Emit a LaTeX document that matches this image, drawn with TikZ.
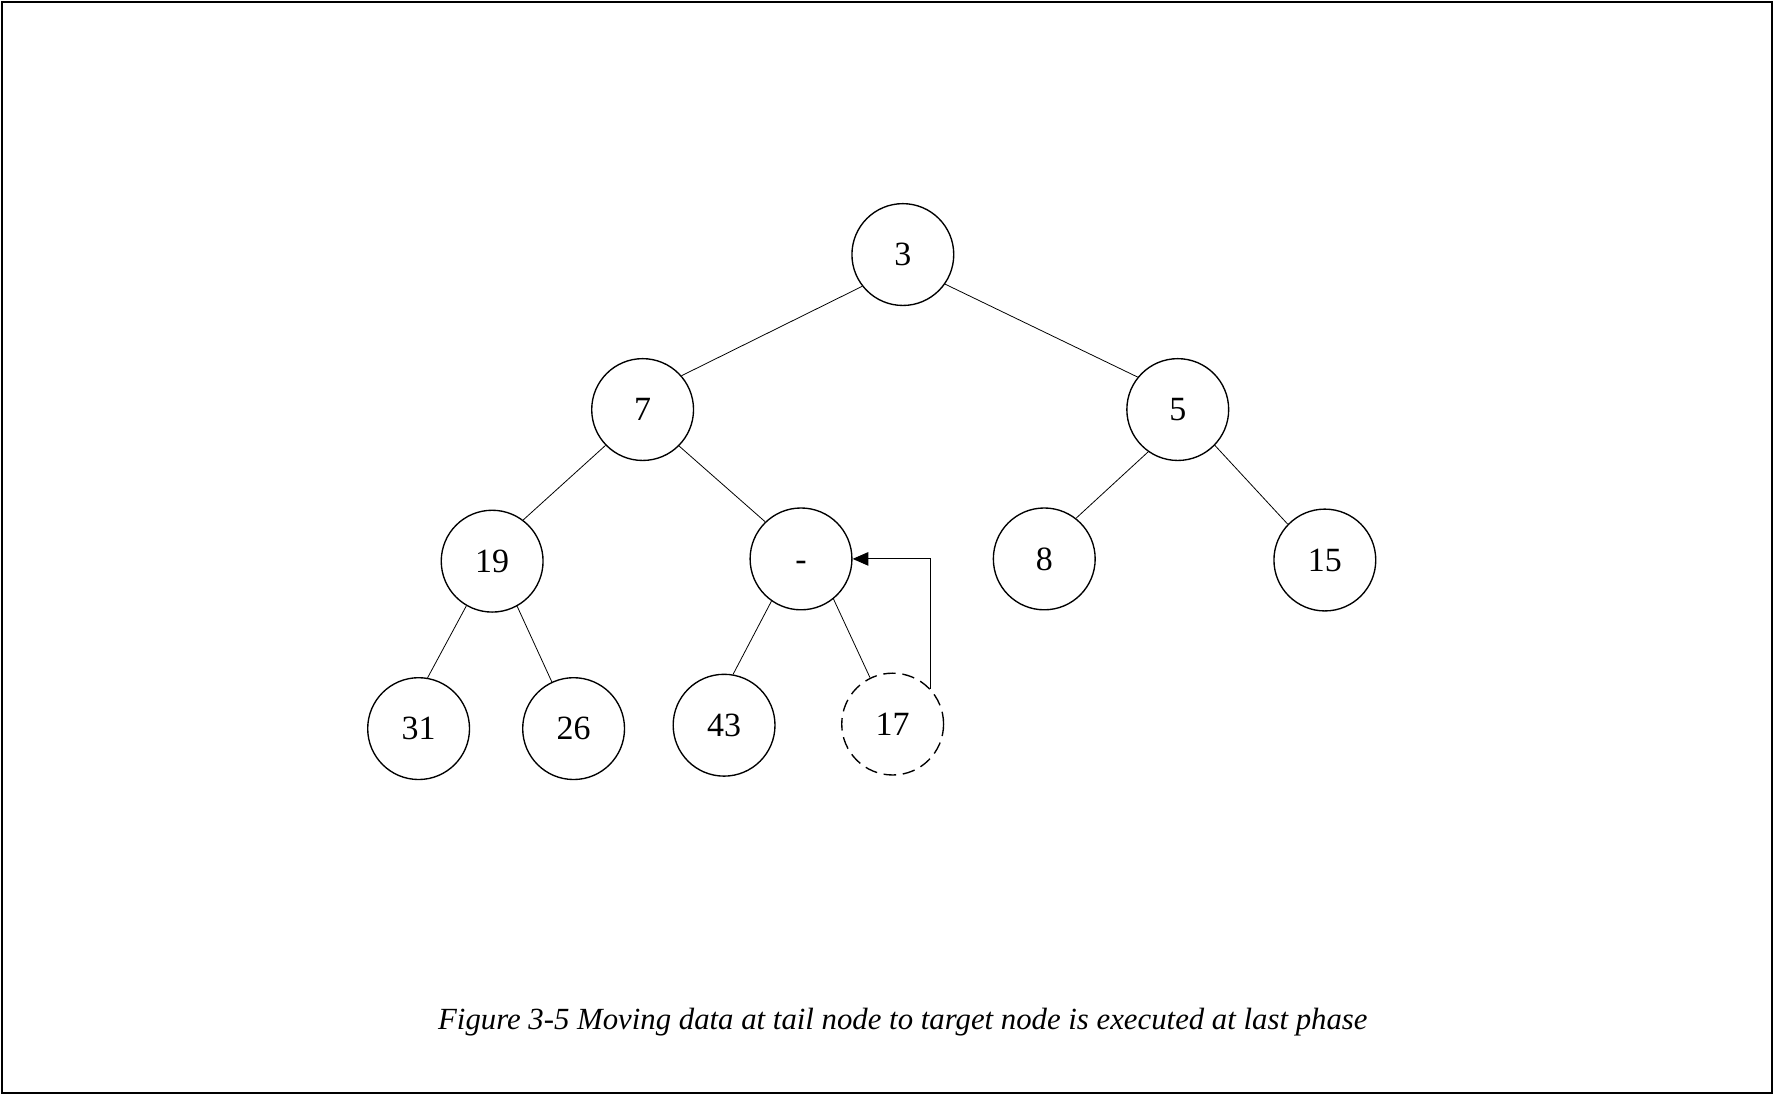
\documentclass[tikz,border=0pt]{standalone}
\usepackage{fontspec}
\setmainfont{Liberation Serif}
\usetikzlibrary{arrows.meta}
\begin{document}
\begin{tikzpicture}[x=0.5pt,y=-0.5pt,
  hnode/.style={circle,draw,line width=0.6pt,inner sep=0pt,minimum size=45pt,text height=10pt,text depth=0pt,font=\fontsize{15}{18}\selectfont},
  tailnode/.style={hnode,dash pattern=on 5.5pt off 3pt},
  edge/.style={line width=0.35pt},
  movearrow/.style={line width=0.45pt,-{Triangle[length=7pt,width=6pt]}}]
\useasboundingbox (0,0) rectangle (1568,968);
\draw[line width=1pt] (2,2) rectangle (1566,966);
\node[hnode] (n3) at (798,225) {3};
\node[hnode] (n7) at (568,362) {7};
\node[hnode] (n5) at (1041,362) {5};
\node[hnode] (n19) at (435,496) {19};
\node[hnode] (nd) at (708,494) {-};
\node[hnode] (n8) at (923,494) {8};
\node[hnode] (n15) at (1171,495) {15};
\node[hnode] (n31) at (370,644) {31};
\node[hnode] (n26) at (507,644) {26};
\node[hnode] (n43) at (640,641) {43};
\node[tailnode] (n17) at (789,640) {17};
\draw[edge] (n3.218) -- (n7.41);
\draw[edge] (n3.325) -- (n5.141);
\draw[edge] (n7.224) -- (n19.53);
\draw[edge] (n7.315) -- (nd.134);
\draw[edge] (n5.235) -- (n8.52);
\draw[edge] (n5.316) -- (n15.136);
\draw[edge] (n19.240) -- (n31.80);
\draw[edge] (n19.299) -- (n26.115);
\draw[edge] (nd.235) -- (n43.80);
\draw[edge] (nd.309) -- (n17.116);
\draw[movearrow] (n17.43) |- (nd.east);
\node[font=\fontsize{13.6}{16}\selectfont\itshape] (cap) at (798,903) {Figure 3-5 Moving data at tail node to target node is executed at last phase};
\end{tikzpicture}
\end{document}
